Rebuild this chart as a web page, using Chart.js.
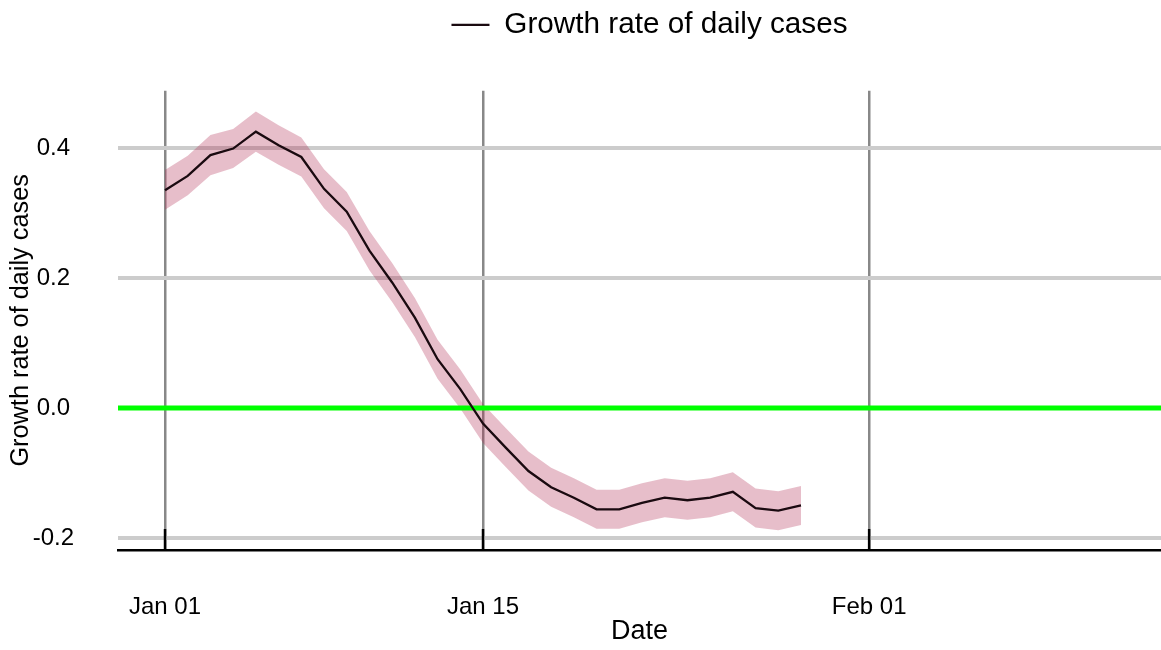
<!DOCTYPE html>
<html>
<head>
<meta charset="utf-8">
<title>Growth rate of daily cases</title>
<script src="https://cdn.jsdelivr.net/npm/chart.js@4.4.1/dist/chart.umd.min.js"></script>
<style>
    html, body { margin: 0; padding: 0; background: #fff; }
    #wrap { width: 1161px; height: 650px; }
</style>
</head>
<body>
<div id="wrap"><canvas id="growthChart" width="1161" height="650"></canvas></div>
<script>
// one point per day
var dates = [
    '2021-01-01', '2021-01-02', '2021-01-03', '2021-01-04', '2021-01-05', '2021-01-06',
    '2021-01-07', '2021-01-08', '2021-01-09', '2021-01-10', '2021-01-11', '2021-01-12',
    '2021-01-13', '2021-01-14', '2021-01-15', '2021-01-16', '2021-01-17', '2021-01-18',
    '2021-01-19', '2021-01-20', '2021-01-21', '2021-01-22', '2021-01-23', '2021-01-24',
    '2021-01-25', '2021-01-26', '2021-01-27', '2021-01-28', '2021-01-29'
];
var growthRate = [
    0.335, 0.357, 0.389, 0.399, 0.425, 0.404, 0.386, 0.337, 0.302, 0.242,
    0.193, 0.139, 0.075, 0.029, -0.024, -0.061, -0.097, -0.122, -0.138, -0.156,
    -0.156, -0.146, -0.138, -0.142, -0.138, -0.129, -0.154, -0.158, -0.150
];
var upperBound = [
    0.366, 0.388, 0.420, 0.429, 0.456, 0.435, 0.416, 0.367, 0.332, 0.272,
    0.223, 0.169, 0.105, 0.059, 0.006, -0.031, -0.067, -0.092, -0.108, -0.126,
    -0.126, -0.116, -0.108, -0.112, -0.108, -0.099, -0.124, -0.128, -0.120
];
var lowerBound = [
    0.305, 0.327, 0.358, 0.369, 0.394, 0.374, 0.356, 0.307, 0.272, 0.212,
    0.163, 0.109, 0.045, -0.001, -0.054, -0.091, -0.127, -0.152, -0.168, -0.186,
    -0.186, -0.176, -0.168, -0.172, -0.168, -0.159, -0.184, -0.188, -0.180
];
var tickDates = ['2021-01-01', '2021-01-15', '2021-02-01'];
var tickLabels = ['Jan 01', 'Jan 15', 'Feb 01'];
var yTicks = [-0.2, 0.0, 0.2, 0.4];
var referenceLevel = 0;

// axis limits (days from Jan 01)
var xMin = -2.07, xMax = 43.85;
var yMin = -0.2185, yMax = 0.488;

function dayIndex(d) {
    return (Date.parse(d) - Date.parse(dates[0])) / 86400000;
}

function toPoints(values) {
    return values.map(function (v, i) { return { x: dayIndex(dates[i]), y: v }; });
}

var fontFamily = "'Liberation Sans', Arial, sans-serif";

// extra room under the legend, and nudge it a bit to the right
var legendSpacer = {
    id: 'legendSpacer',
    beforeInit: function (chart) {
        var originalFit = chart.legend.fit;
        chart.legend.fit = function () {
            originalFit.bind(chart.legend)();
            this.height += 41;
        };
    },
    afterLayout: function (chart) {
        chart.legend.left += 20;
    }
};

// short black ticks pointing inside the plot
var innerTicks = {
    id: 'innerTicks',
    afterDatasetsDraw: function (chart) {
        var xs = chart.scales.x;
        var area = chart.chartArea;
        var ctx = chart.ctx;
        ctx.save();
        ctx.strokeStyle = '#000';
        ctx.lineWidth = 2.5;
        xs.ticks.forEach(function (t) {
            var px = xs.getPixelForValue(t.value);
            ctx.beginPath();
            ctx.moveTo(px, area.bottom - 21);
            ctx.lineTo(px, area.bottom);
            ctx.stroke();
        });
        ctx.restore();
    }
};

var ctx = document.getElementById('growthChart').getContext('2d');
new Chart(ctx, {
    type: 'line',
    data: {
        datasets: [{
            label: 'Growth rate of daily cases',
            data: toPoints(growthRate),
            borderColor: '#1a0a10',
            backgroundColor: '#1a0a10',
            borderWidth: 2.3,
            pointRadius: 0,
            tension: 0,
            fill: false
        }, {
            label: 'zero',
            data: [{ x: xMin, y: referenceLevel }, { x: xMax, y: referenceLevel }],
            borderColor: '#00ff00',
            borderWidth: 5,
            pointRadius: 0,
            fill: false
        }, {
            label: 'upper',
            data: toPoints(upperBound),
            borderWidth: 0,
            borderColor: 'rgba(0,0,0,0)',
            backgroundColor: 'rgba(176,40,80,0.3)',
            pointRadius: 0,
            tension: 0,
            fill: '+1'
        }, {
            label: 'lower',
            data: toPoints(lowerBound),
            borderWidth: 0,
            borderColor: 'rgba(0,0,0,0)',
            pointRadius: 0,
            tension: 0,
            fill: false
        }]
    },
    options: {
        responsive: false,
        animation: false,
        layout: { padding: 0 },
        plugins: {
            tooltip: { enabled: false },
            legend: {
                position: 'top',
                fullSize: false,
                labels: {
                    usePointStyle: true,
                    pointStyle: 'line',
                    pointStyleWidth: 38,
                    padding: 10,
                    color: '#000',
                    font: { family: fontFamily, size: 29.7 },
                    filter: function (item) { return item.datasetIndex === 0; }
                }
            }
        },
        scales: {
            x: {
                type: 'linear',
                min: xMin,
                max: xMax,
                afterBuildTicks: function (scale) {
                    scale.ticks = tickDates.map(function (d) { return { value: dayIndex(d) }; });
                },
                afterFit: function (scale) {
                    scale.height = 100;
                },
                ticks: {
                    padding: 45,
                    color: '#000',
                    maxRotation: 0,
                    font: { family: fontFamily, size: 24, lineHeight: 1 },
                    callback: function (value, index) { return tickLabels[index]; }
                },
                grid: {
                    color: '#888888',
                    lineWidth: 2.5,
                    drawTicks: false
                },
                border: { display: true, color: '#000', width: 2.5 },
                title: {
                    display: true,
                    text: 'Date',
                    color: '#000',
                    font: { family: fontFamily, size: 27, lineHeight: 1 },
                    padding: { top: 0, bottom: 5 }
                }
            },
            y: {
                min: yMin,
                max: yMax,
                afterBuildTicks: function (scale) {
                    scale.ticks = yTicks.map(function (v) { return { value: v }; });
                },
                afterFit: function (scale) {
                    scale.width = 118;
                },
                ticks: {
                    padding: 44,
                    color: '#000',
                    crossAlign: 'center',
                    font: { family: fontFamily, size: 24, lineHeight: 1 },
                    callback: function (value) { return value.toFixed(1); }
                },
                grid: {
                    color: '#cccccc',
                    lineWidth: 4,
                    drawTicks: false
                },
                border: { display: false },
                title: {
                    display: true,
                    text: 'Growth rate of daily cases',
                    color: '#000',
                    font: { family: fontFamily, size: 25.3, lineHeight: 1 },
                    padding: { top: 8, bottom: 0 }
                }
            }
        }
    },
    plugins: [legendSpacer, innerTicks]
});
</script>
</body>
</html>
